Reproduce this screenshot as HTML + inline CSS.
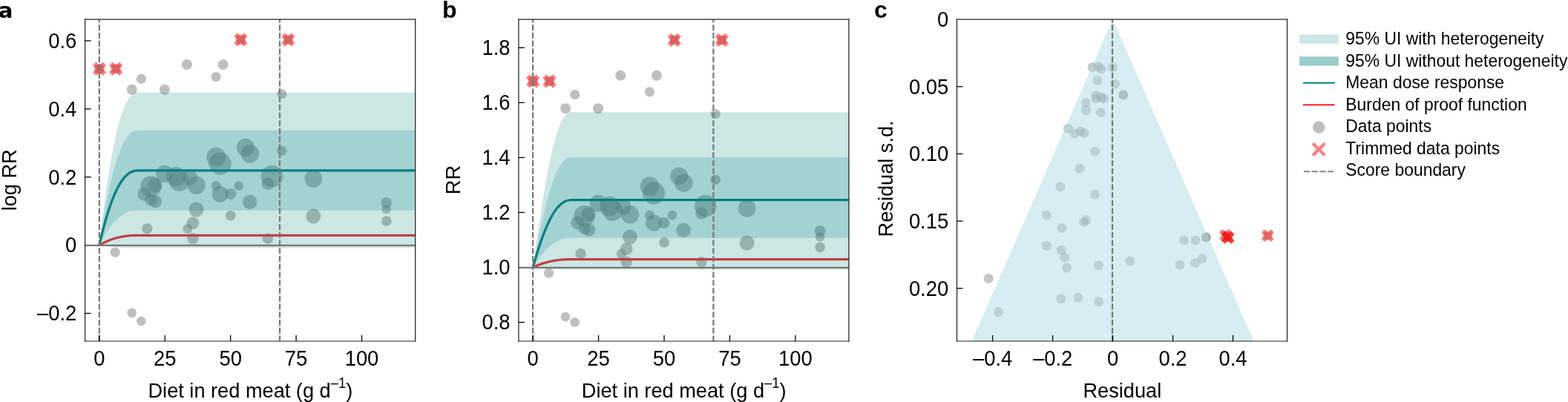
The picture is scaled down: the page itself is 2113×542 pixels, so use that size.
<!DOCTYPE html><html><head><meta charset="utf-8"><title>Red meat burden of proof</title><style>
html,body{margin:0;padding:0;background:#fff;}body{width:2113px;height:542px;overflow:hidden;}
svg{display:block;font-family:"Liberation Sans", Arial, Helvetica, sans-serif;}
.tk{font-size:27.4px;fill:#000;}.lab{font-size:27.2px;fill:#000;}.lg{font-size:22.9px;fill:#000;}.pl{font-size:32px;font-weight:bold;fill:#000;}
</style></head><body>
<svg width="2113" height="542" viewBox="0 0 2113 542">
<defs><clipPath id="c114"><rect x="114.60" y="26.20" width="445.10" height="433.70"/></clipPath></defs>
<g clip-path="url(#c114)">
<circle cx="134.00" cy="92.80" r="7.00" fill="#808080" fill-opacity="0.5"/>
<circle cx="156.20" cy="92.80" r="7.00" fill="#808080" fill-opacity="0.5"/>
<circle cx="324.40" cy="53.50" r="7.00" fill="#808080" fill-opacity="0.5"/>
<circle cx="388.40" cy="53.50" r="7.00" fill="#808080" fill-opacity="0.5"/>
<circle cx="190.40" cy="106.40" r="6.60" fill="#808080" fill-opacity="0.5"/>
<circle cx="177.80" cy="120.80" r="7.00" fill="#808080" fill-opacity="0.5"/>
<circle cx="221.80" cy="120.80" r="7.00" fill="#808080" fill-opacity="0.5"/>
<circle cx="251.90" cy="87.10" r="7.00" fill="#808080" fill-opacity="0.5"/>
<circle cx="300.60" cy="87.10" r="7.00" fill="#808080" fill-opacity="0.5"/>
<circle cx="291.10" cy="103.50" r="6.60" fill="#808080" fill-opacity="0.5"/>
<circle cx="379.80" cy="126.70" r="6.60" fill="#808080" fill-opacity="0.5"/>
<circle cx="221.80" cy="234.30" r="11.60" fill="#808080" fill-opacity="0.5"/>
<circle cx="237.10" cy="238.20" r="13.30" fill="#808080" fill-opacity="0.5"/>
<circle cx="241.50" cy="244.30" r="13.80" fill="#808080" fill-opacity="0.5"/>
<circle cx="255.90" cy="239.30" r="10.50" fill="#808080" fill-opacity="0.5"/>
<circle cx="264.70" cy="249.80" r="12.20" fill="#808080" fill-opacity="0.5"/>
<circle cx="291.20" cy="211.70" r="12.90" fill="#808080" fill-opacity="0.5"/>
<circle cx="296.70" cy="220.60" r="15.10" fill="#808080" fill-opacity="0.5"/>
<circle cx="330.80" cy="198.80" r="12.00" fill="#808080" fill-opacity="0.5"/>
<circle cx="336.90" cy="207.30" r="12.30" fill="#808080" fill-opacity="0.5"/>
<circle cx="291.20" cy="250.60" r="6.60" fill="#808080" fill-opacity="0.5"/>
<circle cx="296.70" cy="261.70" r="11.00" fill="#808080" fill-opacity="0.5"/>
<circle cx="310.60" cy="261.50" r="7.60" fill="#808080" fill-opacity="0.5"/>
<circle cx="321.60" cy="250.60" r="6.30" fill="#808080" fill-opacity="0.5"/>
<circle cx="336.70" cy="272.20" r="9.80" fill="#808080" fill-opacity="0.5"/>
<circle cx="366.40" cy="237.80" r="14.80" fill="#808080" fill-opacity="0.5"/>
<circle cx="361.00" cy="247.90" r="8.20" fill="#808080" fill-opacity="0.5"/>
<circle cx="379.70" cy="203.30" r="6.70" fill="#808080" fill-opacity="0.5"/>
<circle cx="422.30" cy="241.00" r="11.90" fill="#808080" fill-opacity="0.5"/>
<circle cx="422.30" cy="291.50" r="10.00" fill="#808080" fill-opacity="0.5"/>
<circle cx="264.60" cy="282.40" r="10.00" fill="#808080" fill-opacity="0.5"/>
<circle cx="259.90" cy="300.80" r="8.30" fill="#808080" fill-opacity="0.5"/>
<circle cx="252.80" cy="308.40" r="6.40" fill="#808080" fill-opacity="0.5"/>
<circle cx="198.30" cy="308.20" r="7.20" fill="#808080" fill-opacity="0.5"/>
<circle cx="310.70" cy="290.70" r="6.90" fill="#808080" fill-opacity="0.5"/>
<circle cx="259.90" cy="321.60" r="7.70" fill="#808080" fill-opacity="0.5"/>
<circle cx="361.00" cy="321.70" r="7.20" fill="#808080" fill-opacity="0.5"/>
<circle cx="520.70" cy="273.30" r="7.40" fill="#808080" fill-opacity="0.5"/>
<circle cx="520.70" cy="282.40" r="6.20" fill="#808080" fill-opacity="0.5"/>
<circle cx="520.70" cy="298.10" r="6.80" fill="#808080" fill-opacity="0.5"/>
<circle cx="203.30" cy="251.40" r="14.20" fill="#808080" fill-opacity="0.5"/>
<circle cx="208.90" cy="249.80" r="9.70" fill="#808080" fill-opacity="0.5"/>
<circle cx="194.20" cy="261.50" r="9.10" fill="#808080" fill-opacity="0.5"/>
<circle cx="203.30" cy="269.70" r="8.10" fill="#808080" fill-opacity="0.5"/>
<circle cx="209.40" cy="271.70" r="8.60" fill="#808080" fill-opacity="0.5"/>
<circle cx="155.20" cy="340.10" r="6.60" fill="#808080" fill-opacity="0.5"/>
<circle cx="177.70" cy="421.70" r="6.30" fill="#808080" fill-opacity="0.5"/>
<circle cx="190.30" cy="433.00" r="6.30" fill="#808080" fill-opacity="0.5"/>
<polygon points="133.80,330.60 133.81,330.49 133.85,330.11 133.93,329.41 134.05,328.37 134.21,326.97 134.41,325.19 134.65,323.02 134.94,320.47 135.28,317.53 135.67,314.20 136.10,310.49 136.59,306.40 137.13,301.93 137.72,297.11 138.36,291.93 139.05,286.43 139.80,280.62 140.61,274.51 141.47,268.14 142.38,261.52 143.35,254.68 144.38,247.66 145.47,240.49 146.62,233.19 147.82,225.80 149.09,218.37 150.41,210.93 151.79,203.52 153.24,196.18 154.74,188.97 156.31,181.91 157.94,175.07 159.63,168.48 161.38,162.19 163.20,156.26 165.08,150.71 167.02,145.61 169.03,141.00 171.10,136.90 173.23,133.37 175.44,130.42 177.70,128.10 180.04,126.39 182.43,125.31 184.90,124.81 187.43,124.74 190.03,124.74 192.69,124.74 195.43,124.74 198.23,124.74 201.10,124.74 204.04,124.74 207.04,124.74 210.12,124.74 213.26,124.74 216.47,124.74 219.75,124.74 223.11,124.74 226.53,124.74 230.02,124.74 233.59,124.74 237.22,124.74 240.93,124.74 244.70,124.74 248.55,124.74 252.47,124.74 256.46,124.74 260.53,124.74 264.66,124.74 268.87,124.74 273.15,124.74 277.51,124.74 281.93,124.74 286.44,124.74 291.01,124.74 295.66,124.74 300.38,124.74 305.18,124.74 310.05,124.74 314.99,124.74 320.01,124.74 325.11,124.74 330.28,124.74 335.53,124.74 340.85,124.74 346.24,124.74 351.72,124.74 357.26,124.74 362.89,124.74 368.59,124.74 374.37,124.74 380.22,124.74 386.15,124.74 392.16,124.74 398.25,124.74 404.41,124.74 410.65,124.74 416.97,124.74 423.36,124.74 429.84,124.74 436.39,124.74 443.02,124.74 449.73,124.74 456.52,124.74 463.38,124.74 470.33,124.74 477.35,124.74 484.45,124.74 491.64,124.74 498.90,124.74 506.24,124.74 513.66,124.74 521.16,124.74 528.75,124.74 536.41,124.74 544.15,124.74 551.97,124.74 559.88,124.74 567.86,124.74 575.92,124.74 575.92,334.60 567.86,334.60 559.88,334.60 551.97,334.60 544.15,334.60 536.41,334.60 528.75,334.60 521.16,334.60 513.66,334.60 506.24,334.60 498.90,334.60 491.64,334.60 484.45,334.60 477.35,334.60 470.33,334.60 463.38,334.60 456.52,334.60 449.73,334.60 443.02,334.60 436.39,334.60 429.84,334.60 423.36,334.60 416.97,334.60 410.65,334.60 404.41,334.60 398.25,334.60 392.16,334.60 386.15,334.60 380.22,334.60 374.37,334.60 368.59,334.60 362.89,334.60 357.26,334.60 351.72,334.60 346.24,334.60 340.85,334.60 335.53,334.60 330.28,334.60 325.11,334.60 320.01,334.60 314.99,334.60 310.05,334.60 305.18,334.60 300.38,334.60 295.66,334.60 291.01,334.60 286.44,334.60 281.93,334.60 277.51,334.60 273.15,334.60 268.87,334.60 264.66,334.60 260.53,334.60 256.46,334.60 252.47,334.60 248.55,334.60 244.70,334.60 240.93,334.60 237.22,334.60 233.59,334.60 230.02,334.60 226.53,334.60 223.11,334.60 219.75,334.60 216.47,334.60 213.26,334.60 210.12,334.60 207.04,334.60 204.04,334.60 201.10,334.60 198.23,334.60 195.43,334.60 192.69,334.60 190.03,334.60 187.43,334.60 184.90,334.60 182.43,334.59 180.04,334.56 177.70,334.53 175.44,334.49 173.23,334.43 171.10,334.36 169.03,334.28 167.02,334.19 165.08,334.09 163.20,333.98 161.38,333.87 159.63,333.75 157.94,333.62 156.31,333.49 154.74,333.35 153.24,333.21 151.79,333.07 150.41,332.92 149.09,332.78 147.82,332.63 146.62,332.49 145.47,332.35 144.38,332.21 143.35,332.07 142.38,331.94 141.47,331.81 140.61,331.69 139.80,331.57 139.05,331.46 138.36,331.35 137.72,331.25 137.13,331.16 136.59,331.07 136.10,330.99 135.67,330.92 135.28,330.85 134.94,330.80 134.65,330.75 134.41,330.71 134.21,330.67 134.05,330.64 133.93,330.62 133.85,330.61 133.81,330.60 133.80,330.60" fill="#008080" fill-opacity="0.2"/>
<polygon points="133.80,330.60 133.81,330.52 133.85,330.23 133.93,329.71 134.05,328.92 134.21,327.87 134.41,326.53 134.65,324.90 134.94,322.99 135.28,320.78 135.67,318.27 136.10,315.48 136.59,312.40 137.13,309.05 137.72,305.42 138.36,301.53 139.05,297.39 139.80,293.02 140.61,288.43 141.47,283.64 142.38,278.66 143.35,273.52 144.38,268.24 145.47,262.85 146.62,257.36 147.82,251.81 149.09,246.22 150.41,240.62 151.79,235.05 153.24,229.54 154.74,224.11 156.31,218.81 157.94,213.66 159.63,208.71 161.38,203.99 163.20,199.52 165.08,195.36 167.02,191.52 169.03,188.05 171.10,184.97 173.23,182.31 175.44,180.10 177.70,178.35 180.04,177.07 182.43,176.26 184.90,175.88 187.43,175.83 190.03,175.83 192.69,175.83 195.43,175.83 198.23,175.83 201.10,175.83 204.04,175.83 207.04,175.83 210.12,175.83 213.26,175.83 216.47,175.83 219.75,175.83 223.11,175.83 226.53,175.83 230.02,175.83 233.59,175.83 237.22,175.83 240.93,175.83 244.70,175.83 248.55,175.83 252.47,175.83 256.46,175.83 260.53,175.83 264.66,175.83 268.87,175.83 273.15,175.83 277.51,175.83 281.93,175.83 286.44,175.83 291.01,175.83 295.66,175.83 300.38,175.83 305.18,175.83 310.05,175.83 314.99,175.83 320.01,175.83 325.11,175.83 330.28,175.83 335.53,175.83 340.85,175.83 346.24,175.83 351.72,175.83 357.26,175.83 362.89,175.83 368.59,175.83 374.37,175.83 380.22,175.83 386.15,175.83 392.16,175.83 398.25,175.83 404.41,175.83 410.65,175.83 416.97,175.83 423.36,175.83 429.84,175.83 436.39,175.83 443.02,175.83 449.73,175.83 456.52,175.83 463.38,175.83 470.33,175.83 477.35,175.83 484.45,175.83 491.64,175.83 498.90,175.83 506.24,175.83 513.66,175.83 521.16,175.83 528.75,175.83 536.41,175.83 544.15,175.83 551.97,175.83 559.88,175.83 567.86,175.83 575.92,175.83 575.92,283.79 567.86,283.79 559.88,283.79 551.97,283.79 544.15,283.79 536.41,283.79 528.75,283.79 521.16,283.79 513.66,283.79 506.24,283.79 498.90,283.79 491.64,283.79 484.45,283.79 477.35,283.79 470.33,283.79 463.38,283.79 456.52,283.79 449.73,283.79 443.02,283.79 436.39,283.79 429.84,283.79 423.36,283.79 416.97,283.79 410.65,283.79 404.41,283.79 398.25,283.79 392.16,283.79 386.15,283.79 380.22,283.79 374.37,283.79 368.59,283.79 362.89,283.79 357.26,283.79 351.72,283.79 346.24,283.79 340.85,283.79 335.53,283.79 330.28,283.79 325.11,283.79 320.01,283.79 314.99,283.79 310.05,283.79 305.18,283.79 300.38,283.79 295.66,283.79 291.01,283.79 286.44,283.79 281.93,283.79 277.51,283.79 273.15,283.79 268.87,283.79 264.66,283.79 260.53,283.79 256.46,283.79 252.47,283.79 248.55,283.79 244.70,283.79 240.93,283.79 237.22,283.79 233.59,283.79 230.02,283.79 226.53,283.79 223.11,283.79 219.75,283.79 216.47,283.79 213.26,283.79 210.12,283.79 207.04,283.79 204.04,283.79 201.10,283.79 198.23,283.79 195.43,283.79 192.69,283.79 190.03,283.79 187.43,283.79 184.90,283.80 182.43,283.92 180.04,284.16 177.70,284.55 175.44,285.08 173.23,285.75 171.10,286.55 169.03,287.48 167.02,288.53 165.08,289.69 163.20,290.95 161.38,292.30 159.63,293.73 157.94,295.23 156.31,296.79 154.74,298.39 153.24,300.03 151.79,301.70 150.41,303.39 149.09,305.08 147.82,306.77 146.62,308.45 145.47,310.11 144.38,311.74 143.35,313.34 142.38,314.89 141.47,316.40 140.61,317.85 139.80,319.23 139.05,320.56 138.36,321.81 137.72,322.98 137.13,324.08 136.59,325.10 136.10,326.03 135.67,326.87 135.28,327.63 134.94,328.30 134.65,328.88 134.41,329.37 134.21,329.77 134.05,330.09 133.93,330.33 133.85,330.49 133.81,330.58 133.80,330.60" fill="#008080" fill-opacity="0.2"/>
<polyline points="133.80,330.60 133.81,330.55 133.85,330.36 133.93,330.02 134.05,329.51 134.21,328.82 134.41,327.95 134.65,326.89 134.94,325.64 135.28,324.20 135.67,322.57 136.10,320.75 136.59,318.75 137.13,316.56 137.72,314.20 138.36,311.67 139.05,308.97 139.80,306.13 140.61,303.14 141.47,300.02 142.38,296.78 143.35,293.43 144.38,289.99 145.47,286.48 146.62,282.90 147.82,279.29 149.09,275.65 150.41,272.01 151.79,268.38 153.24,264.79 154.74,261.25 156.31,257.80 157.94,254.45 159.63,251.22 161.38,248.14 163.20,245.24 165.08,242.52 167.02,240.03 169.03,237.77 171.10,235.76 173.23,234.03 175.44,232.59 177.70,231.45 180.04,230.62 182.43,230.09 184.90,229.84 187.43,229.81 190.03,229.81 192.69,229.81 195.43,229.81 198.23,229.81 201.10,229.81 204.04,229.81 207.04,229.81 210.12,229.81 213.26,229.81 216.47,229.81 219.75,229.81 223.11,229.81 226.53,229.81 230.02,229.81 233.59,229.81 237.22,229.81 240.93,229.81 244.70,229.81 248.55,229.81 252.47,229.81 256.46,229.81 260.53,229.81 264.66,229.81 268.87,229.81 273.15,229.81 277.51,229.81 281.93,229.81 286.44,229.81 291.01,229.81 295.66,229.81 300.38,229.81 305.18,229.81 310.05,229.81 314.99,229.81 320.01,229.81 325.11,229.81 330.28,229.81 335.53,229.81 340.85,229.81 346.24,229.81 351.72,229.81 357.26,229.81 362.89,229.81 368.59,229.81 374.37,229.81 380.22,229.81 386.15,229.81 392.16,229.81 398.25,229.81 404.41,229.81 410.65,229.81 416.97,229.81 423.36,229.81 429.84,229.81 436.39,229.81 443.02,229.81 449.73,229.81 456.52,229.81 463.38,229.81 470.33,229.81 477.35,229.81 484.45,229.81 491.64,229.81 498.90,229.81 506.24,229.81 513.66,229.81 521.16,229.81 528.75,229.81 536.41,229.81 544.15,229.81 551.97,229.81 559.88,229.81 567.86,229.81 575.92,229.81" fill="none" stroke="#087e80" stroke-width="3.2"/>
<polyline points="133.80,330.60 133.81,330.59 133.85,330.57 133.93,330.52 134.05,330.46 134.21,330.36 134.41,330.25 134.65,330.11 134.94,329.94 135.28,329.75 135.67,329.54 136.10,329.30 136.59,329.03 137.13,328.74 137.72,328.43 138.36,328.10 139.05,327.74 139.80,327.37 140.61,326.97 141.47,326.56 142.38,326.13 143.35,325.69 144.38,325.23 145.47,324.77 146.62,324.30 147.82,323.82 149.09,323.34 150.41,322.86 151.79,322.38 153.24,321.90 154.74,321.43 156.31,320.98 157.94,320.53 159.63,320.11 161.38,319.70 163.20,319.32 165.08,318.96 167.02,318.63 169.03,318.33 171.10,318.06 173.23,317.84 175.44,317.65 177.70,317.49 180.04,317.38 182.43,317.31 184.90,317.28 187.43,317.28 190.03,317.28 192.69,317.28 195.43,317.28 198.23,317.28 201.10,317.28 204.04,317.28 207.04,317.28 210.12,317.28 213.26,317.28 216.47,317.28 219.75,317.28 223.11,317.28 226.53,317.28 230.02,317.28 233.59,317.28 237.22,317.28 240.93,317.28 244.70,317.28 248.55,317.28 252.47,317.28 256.46,317.28 260.53,317.28 264.66,317.28 268.87,317.28 273.15,317.28 277.51,317.28 281.93,317.28 286.44,317.28 291.01,317.28 295.66,317.28 300.38,317.28 305.18,317.28 310.05,317.28 314.99,317.28 320.01,317.28 325.11,317.28 330.28,317.28 335.53,317.28 340.85,317.28 346.24,317.28 351.72,317.28 357.26,317.28 362.89,317.28 368.59,317.28 374.37,317.28 380.22,317.28 386.15,317.28 392.16,317.28 398.25,317.28 404.41,317.28 410.65,317.28 416.97,317.28 423.36,317.28 429.84,317.28 436.39,317.28 443.02,317.28 449.73,317.28 456.52,317.28 463.38,317.28 470.33,317.28 477.35,317.28 484.45,317.28 491.64,317.28 498.90,317.28 506.24,317.28 513.66,317.28 521.16,317.28 528.75,317.28 536.41,317.28 544.15,317.28 551.97,317.28 559.88,317.28 567.86,317.28 575.92,317.28" fill="none" stroke="#bf4143" stroke-width="3.2"/>
<line x1="114.60" y1="330.95" x2="559.70" y2="330.95" stroke="#777" stroke-width="2.2"/>
<polygon points="129.40,83.60 134.00,88.20 138.60,83.60 143.20,88.20 138.60,92.80 143.20,97.40 138.60,102.00 134.00,97.40 129.40,102.00 124.80,97.40 129.40,92.80 124.80,88.20" fill="#f00" fill-opacity="0.5"/>
<polygon points="151.60,83.60 156.20,88.20 160.80,83.60 165.40,88.20 160.80,92.80 165.40,97.40 160.80,102.00 156.20,97.40 151.60,102.00 147.00,97.40 151.60,92.80 147.00,88.20" fill="#f00" fill-opacity="0.5"/>
<polygon points="319.80,44.30 324.40,48.90 329.00,44.30 333.60,48.90 329.00,53.50 333.60,58.10 329.00,62.70 324.40,58.10 319.80,62.70 315.20,58.10 319.80,53.50 315.20,48.90" fill="#f00" fill-opacity="0.5"/>
<polygon points="383.80,44.30 388.40,48.90 393.00,44.30 397.60,48.90 393.00,53.50 397.60,58.10 393.00,62.70 388.40,58.10 383.80,62.70 379.20,58.10 383.80,53.50 379.20,48.90" fill="#f00" fill-opacity="0.5"/>
<line x1="133.80" y1="459.90" x2="133.80" y2="26.20" stroke="#777" stroke-width="2.2" stroke-dasharray="7.8 2.95" stroke-dashoffset="0.5"/>
<line x1="377.00" y1="459.90" x2="377.00" y2="26.20" stroke="#777" stroke-width="2.2" stroke-dasharray="7.8 2.95" stroke-dashoffset="0.5"/>
</g>
<defs><clipPath id="c698"><rect x="698.90" y="26.20" width="445.00" height="433.70"/></clipPath></defs>
<g clip-path="url(#c698)">
<circle cx="718.30" cy="109.49" r="7.00" fill="#808080" fill-opacity="0.5"/>
<circle cx="740.51" cy="109.49" r="7.00" fill="#808080" fill-opacity="0.5"/>
<circle cx="908.75" cy="54.00" r="7.00" fill="#808080" fill-opacity="0.5"/>
<circle cx="972.77" cy="54.00" r="7.00" fill="#808080" fill-opacity="0.5"/>
<circle cx="774.72" cy="127.61" r="6.60" fill="#808080" fill-opacity="0.5"/>
<circle cx="762.11" cy="146.22" r="7.00" fill="#808080" fill-opacity="0.5"/>
<circle cx="806.12" cy="146.22" r="7.00" fill="#808080" fill-opacity="0.5"/>
<circle cx="836.23" cy="101.73" r="7.00" fill="#808080" fill-opacity="0.5"/>
<circle cx="884.95" cy="101.73" r="7.00" fill="#808080" fill-opacity="0.5"/>
<circle cx="875.44" cy="123.79" r="6.60" fill="#808080" fill-opacity="0.5"/>
<circle cx="964.17" cy="153.68" r="6.60" fill="#808080" fill-opacity="0.5"/>
<circle cx="806.12" cy="274.17" r="11.60" fill="#808080" fill-opacity="0.5"/>
<circle cx="821.43" cy="278.02" r="13.30" fill="#808080" fill-opacity="0.5"/>
<circle cx="825.83" cy="284.00" r="13.80" fill="#808080" fill-opacity="0.5"/>
<circle cx="840.23" cy="279.11" r="10.50" fill="#808080" fill-opacity="0.5"/>
<circle cx="849.04" cy="289.31" r="12.20" fill="#808080" fill-opacity="0.5"/>
<circle cx="875.54" cy="251.14" r="12.90" fill="#808080" fill-opacity="0.5"/>
<circle cx="881.05" cy="260.35" r="15.10" fill="#808080" fill-opacity="0.5"/>
<circle cx="915.16" cy="237.49" r="12.00" fill="#808080" fill-opacity="0.5"/>
<circle cx="921.26" cy="246.53" r="12.30" fill="#808080" fill-opacity="0.5"/>
<circle cx="875.54" cy="290.08" r="6.60" fill="#808080" fill-opacity="0.5"/>
<circle cx="881.05" cy="300.60" r="11.00" fill="#808080" fill-opacity="0.5"/>
<circle cx="894.95" cy="300.41" r="7.60" fill="#808080" fill-opacity="0.5"/>
<circle cx="905.95" cy="290.08" r="6.30" fill="#808080" fill-opacity="0.5"/>
<circle cx="921.06" cy="310.32" r="9.80" fill="#808080" fill-opacity="0.5"/>
<circle cx="950.77" cy="277.63" r="14.80" fill="#808080" fill-opacity="0.5"/>
<circle cx="945.36" cy="287.48" r="8.20" fill="#808080" fill-opacity="0.5"/>
<circle cx="964.07" cy="242.30" r="6.70" fill="#808080" fill-opacity="0.5"/>
<circle cx="1006.68" cy="280.78" r="11.90" fill="#808080" fill-opacity="0.5"/>
<circle cx="1006.68" cy="327.61" r="10.00" fill="#808080" fill-opacity="0.5"/>
<circle cx="848.94" cy="319.55" r="10.00" fill="#808080" fill-opacity="0.5"/>
<circle cx="844.24" cy="335.69" r="8.30" fill="#808080" fill-opacity="0.5"/>
<circle cx="837.13" cy="342.17" r="6.40" fill="#808080" fill-opacity="0.5"/>
<circle cx="782.62" cy="342.00" r="7.20" fill="#808080" fill-opacity="0.5"/>
<circle cx="895.05" cy="326.91" r="6.90" fill="#808080" fill-opacity="0.5"/>
<circle cx="844.24" cy="353.18" r="7.70" fill="#808080" fill-opacity="0.5"/>
<circle cx="945.36" cy="353.26" r="7.20" fill="#808080" fill-opacity="0.5"/>
<circle cx="1105.11" cy="311.32" r="7.40" fill="#808080" fill-opacity="0.5"/>
<circle cx="1105.11" cy="319.55" r="6.20" fill="#808080" fill-opacity="0.5"/>
<circle cx="1105.11" cy="333.36" r="6.80" fill="#808080" fill-opacity="0.5"/>
<circle cx="787.62" cy="290.85" r="14.20" fill="#808080" fill-opacity="0.5"/>
<circle cx="793.22" cy="289.31" r="9.70" fill="#808080" fill-opacity="0.5"/>
<circle cx="778.52" cy="300.41" r="9.10" fill="#808080" fill-opacity="0.5"/>
<circle cx="787.62" cy="308.02" r="8.10" fill="#808080" fill-opacity="0.5"/>
<circle cx="793.72" cy="309.86" r="8.60" fill="#808080" fill-opacity="0.5"/>
<circle cx="739.51" cy="368.08" r="6.60" fill="#808080" fill-opacity="0.5"/>
<circle cx="762.01" cy="427.09" r="6.30" fill="#808080" fill-opacity="0.5"/>
<circle cx="774.62" cy="434.47" r="6.30" fill="#808080" fill-opacity="0.5"/>
<polygon points="718.10,360.50 718.11,360.41 718.15,360.11 718.23,359.54 718.35,358.70 718.51,357.56 718.71,356.11 718.95,354.34 719.24,352.25 719.58,349.82 719.97,347.05 720.40,343.93 720.89,340.47 721.43,336.66 722.02,332.50 722.66,327.99 723.35,323.14 724.10,317.95 724.91,312.43 725.77,306.58 726.68,300.43 727.66,293.98 728.69,287.25 729.78,280.27 730.92,273.06 732.13,265.64 733.39,258.06 734.71,250.34 736.10,242.53 737.54,234.67 739.05,226.82 740.61,219.02 742.24,211.34 743.93,203.84 745.69,196.58 747.50,189.63 749.38,183.07 751.33,176.95 753.34,171.36 755.41,166.35 757.55,161.99 759.75,158.34 762.02,155.43 764.35,153.29 766.75,151.93 769.21,151.30 771.75,151.21 774.35,151.21 777.01,151.21 779.75,151.21 782.55,151.21 785.42,151.21 788.35,151.21 791.36,151.21 794.44,151.21 797.58,151.21 800.80,151.21 804.08,151.21 807.43,151.21 810.86,151.21 814.35,151.21 817.91,151.21 821.55,151.21 825.26,151.21 829.03,151.21 832.88,151.21 836.80,151.21 840.80,151.21 844.86,151.21 849.00,151.21 853.21,151.21 857.49,151.21 861.85,151.21 866.28,151.21 870.78,151.21 875.35,151.21 880.00,151.21 884.73,151.21 889.53,151.21 894.40,151.21 899.35,151.21 904.37,151.21 909.46,151.21 914.64,151.21 919.88,151.21 925.21,151.21 930.60,151.21 936.08,151.21 941.63,151.21 947.25,151.21 952.96,151.21 958.74,151.21 964.59,151.21 970.52,151.21 976.53,151.21 982.62,151.21 988.79,151.21 995.03,151.21 1001.35,151.21 1007.75,151.21 1014.22,151.21 1020.77,151.21 1027.41,151.21 1034.12,151.21 1040.91,151.21 1047.77,151.21 1054.72,151.21 1061.75,151.21 1068.85,151.21 1076.04,151.21 1083.30,151.21 1090.65,151.21 1098.07,151.21 1105.57,151.21 1113.16,151.21 1120.82,151.21 1128.57,151.21 1136.39,151.21 1144.30,151.21 1152.28,151.21 1160.35,151.21 1160.35,363.71 1152.28,363.71 1144.30,363.71 1136.39,363.71 1128.57,363.71 1120.82,363.71 1113.16,363.71 1105.57,363.71 1098.07,363.71 1090.65,363.71 1083.30,363.71 1076.04,363.71 1068.85,363.71 1061.75,363.71 1054.72,363.71 1047.77,363.71 1040.91,363.71 1034.12,363.71 1027.41,363.71 1020.77,363.71 1014.22,363.71 1007.75,363.71 1001.35,363.71 995.03,363.71 988.79,363.71 982.62,363.71 976.53,363.71 970.52,363.71 964.59,363.71 958.74,363.71 952.96,363.71 947.25,363.71 941.63,363.71 936.08,363.71 930.60,363.71 925.21,363.71 919.88,363.71 914.64,363.71 909.46,363.71 904.37,363.71 899.35,363.71 894.40,363.71 889.53,363.71 884.73,363.71 880.00,363.71 875.35,363.71 870.78,363.71 866.28,363.71 861.85,363.71 857.49,363.71 853.21,363.71 849.00,363.71 844.86,363.71 840.80,363.71 836.80,363.71 832.88,363.71 829.03,363.71 825.26,363.71 821.55,363.71 817.91,363.71 814.35,363.71 810.86,363.71 807.43,363.71 804.08,363.71 800.80,363.71 797.58,363.71 794.44,363.71 791.36,363.71 788.35,363.71 785.42,363.71 782.55,363.71 779.75,363.71 777.01,363.71 774.35,363.71 771.75,363.71 769.21,363.71 766.75,363.70 764.35,363.68 762.02,363.65 759.75,363.62 757.55,363.57 755.41,363.52 753.34,363.45 751.33,363.38 749.38,363.30 747.50,363.22 745.69,363.13 743.93,363.03 742.24,362.93 740.61,362.82 739.05,362.71 737.54,362.60 736.10,362.48 734.71,362.37 733.39,362.25 732.13,362.14 730.92,362.02 729.78,361.91 728.69,361.80 727.66,361.69 726.68,361.58 725.77,361.48 724.91,361.38 724.10,361.28 723.35,361.19 722.66,361.10 722.02,361.02 721.43,360.95 720.89,360.88 720.40,360.81 719.97,360.76 719.58,360.70 719.24,360.66 718.95,360.62 718.71,360.58 718.51,360.56 718.35,360.53 718.23,360.52 718.15,360.51 718.11,360.50 718.10,360.50" fill="#008080" fill-opacity="0.2"/>
<polygon points="718.10,360.50 718.11,360.44 718.15,360.21 718.23,359.78 718.35,359.15 718.51,358.29 718.71,357.21 718.95,355.88 719.24,354.31 719.58,352.50 719.97,350.43 720.40,348.11 720.89,345.54 721.43,342.72 722.02,339.64 722.66,336.32 723.35,332.75 724.10,328.95 724.91,324.91 725.77,320.66 726.68,316.19 727.66,311.53 728.69,306.68 729.78,301.67 730.92,296.52 732.13,291.24 733.39,285.86 734.71,280.41 736.10,274.91 737.54,269.41 739.05,263.93 740.61,258.51 742.24,253.19 743.93,248.01 745.69,243.02 747.50,238.26 749.38,233.78 751.33,229.61 753.34,225.81 755.41,222.41 757.55,219.47 759.75,217.00 762.02,215.04 764.35,213.60 766.75,212.68 769.21,212.25 771.75,212.20 774.35,212.20 777.01,212.20 779.75,212.20 782.55,212.20 785.42,212.20 788.35,212.20 791.36,212.20 794.44,212.20 797.58,212.20 800.80,212.20 804.08,212.20 807.43,212.20 810.86,212.20 814.35,212.20 817.91,212.20 821.55,212.20 825.26,212.20 829.03,212.20 832.88,212.20 836.80,212.20 840.80,212.20 844.86,212.20 849.00,212.20 853.21,212.20 857.49,212.20 861.85,212.20 866.28,212.20 870.78,212.20 875.35,212.20 880.00,212.20 884.73,212.20 889.53,212.20 894.40,212.20 899.35,212.20 904.37,212.20 909.46,212.20 914.64,212.20 919.88,212.20 925.21,212.20 930.60,212.20 936.08,212.20 941.63,212.20 947.25,212.20 952.96,212.20 958.74,212.20 964.59,212.20 970.52,212.20 976.53,212.20 982.62,212.20 988.79,212.20 995.03,212.20 1001.35,212.20 1007.75,212.20 1014.22,212.20 1020.77,212.20 1027.41,212.20 1034.12,212.20 1040.91,212.20 1047.77,212.20 1054.72,212.20 1061.75,212.20 1068.85,212.20 1076.04,212.20 1083.30,212.20 1090.65,212.20 1098.07,212.20 1105.57,212.20 1113.16,212.20 1120.82,212.20 1128.57,212.20 1136.39,212.20 1144.30,212.20 1152.28,212.20 1160.35,212.20 1160.35,320.79 1152.28,320.79 1144.30,320.79 1136.39,320.79 1128.57,320.79 1120.82,320.79 1113.16,320.79 1105.57,320.79 1098.07,320.79 1090.65,320.79 1083.30,320.79 1076.04,320.79 1068.85,320.79 1061.75,320.79 1054.72,320.79 1047.77,320.79 1040.91,320.79 1034.12,320.79 1027.41,320.79 1020.77,320.79 1014.22,320.79 1007.75,320.79 1001.35,320.79 995.03,320.79 988.79,320.79 982.62,320.79 976.53,320.79 970.52,320.79 964.59,320.79 958.74,320.79 952.96,320.79 947.25,320.79 941.63,320.79 936.08,320.79 930.60,320.79 925.21,320.79 919.88,320.79 914.64,320.79 909.46,320.79 904.37,320.79 899.35,320.79 894.40,320.79 889.53,320.79 884.73,320.79 880.00,320.79 875.35,320.79 870.78,320.79 866.28,320.79 861.85,320.79 857.49,320.79 853.21,320.79 849.00,320.79 844.86,320.79 840.80,320.79 836.80,320.79 832.88,320.79 829.03,320.79 825.26,320.79 821.55,320.79 817.91,320.79 814.35,320.79 810.86,320.79 807.43,320.79 804.08,320.79 800.80,320.79 797.58,320.79 794.44,320.79 791.36,320.79 788.35,320.79 785.42,320.79 782.55,320.79 779.75,320.79 777.01,320.79 774.35,320.79 771.75,320.79 769.21,320.80 766.75,320.90 764.35,321.12 762.02,321.47 759.75,321.94 757.55,322.53 755.41,323.25 753.34,324.07 751.33,325.00 749.38,326.02 747.50,327.13 745.69,328.32 743.93,329.57 742.24,330.87 740.61,332.23 739.05,333.61 737.54,335.03 736.10,336.46 734.71,337.91 733.39,339.35 732.13,340.79 730.92,342.21 729.78,343.61 728.69,344.99 727.66,346.32 726.68,347.62 725.77,348.88 724.91,350.08 724.10,351.23 723.35,352.32 722.66,353.35 722.02,354.31 721.43,355.21 720.89,356.04 720.40,356.80 719.97,357.48 719.58,358.10 719.24,358.64 718.95,359.11 718.71,359.51 718.51,359.83 718.35,360.09 718.23,360.28 718.15,360.41 718.11,360.48 718.10,360.50" fill="#008080" fill-opacity="0.2"/>
<polyline points="718.10,360.50 718.11,360.46 718.15,360.31 718.23,360.03 718.35,359.62 718.51,359.06 718.71,358.36 718.95,357.50 719.24,356.48 719.58,355.31 719.97,353.97 720.40,352.48 720.89,350.83 721.43,349.01 722.02,347.05 722.66,344.93 723.35,342.66 724.10,340.25 724.91,337.70 725.77,335.02 726.68,332.22 727.66,329.30 728.69,326.29 729.78,323.18 730.92,320.00 732.13,316.75 733.39,313.46 734.71,310.14 736.10,306.80 737.54,303.48 739.05,300.18 740.61,296.93 742.24,293.75 743.93,290.68 745.69,287.72 747.50,284.91 749.38,282.27 751.33,279.82 753.34,277.60 755.41,275.61 757.55,273.90 759.75,272.46 762.02,271.32 764.35,270.49 766.75,269.96 769.21,269.71 771.75,269.68 774.35,269.68 777.01,269.68 779.75,269.68 782.55,269.68 785.42,269.68 788.35,269.68 791.36,269.68 794.44,269.68 797.58,269.68 800.80,269.68 804.08,269.68 807.43,269.68 810.86,269.68 814.35,269.68 817.91,269.68 821.55,269.68 825.26,269.68 829.03,269.68 832.88,269.68 836.80,269.68 840.80,269.68 844.86,269.68 849.00,269.68 853.21,269.68 857.49,269.68 861.85,269.68 866.28,269.68 870.78,269.68 875.35,269.68 880.00,269.68 884.73,269.68 889.53,269.68 894.40,269.68 899.35,269.68 904.37,269.68 909.46,269.68 914.64,269.68 919.88,269.68 925.21,269.68 930.60,269.68 936.08,269.68 941.63,269.68 947.25,269.68 952.96,269.68 958.74,269.68 964.59,269.68 970.52,269.68 976.53,269.68 982.62,269.68 988.79,269.68 995.03,269.68 1001.35,269.68 1007.75,269.68 1014.22,269.68 1020.77,269.68 1027.41,269.68 1034.12,269.68 1040.91,269.68 1047.77,269.68 1054.72,269.68 1061.75,269.68 1068.85,269.68 1076.04,269.68 1083.30,269.68 1090.65,269.68 1098.07,269.68 1105.57,269.68 1113.16,269.68 1120.82,269.68 1128.57,269.68 1136.39,269.68 1144.30,269.68 1152.28,269.68 1160.35,269.68" fill="none" stroke="#087e80" stroke-width="3.2"/>
<polyline points="718.10,360.50 718.11,360.49 718.15,360.47 718.23,360.44 718.35,360.38 718.51,360.31 718.71,360.22 718.95,360.10 719.24,359.97 719.58,359.82 719.97,359.64 720.40,359.45 720.89,359.24 721.43,359.00 722.02,358.75 722.66,358.48 723.35,358.19 724.10,357.88 724.91,357.56 725.77,357.23 726.68,356.88 727.66,356.52 728.69,356.15 729.78,355.77 730.92,355.38 732.13,354.99 733.39,354.60 734.71,354.21 736.10,353.81 737.54,353.42 739.05,353.04 740.61,352.66 742.24,352.30 743.93,351.95 745.69,351.61 747.50,351.30 749.38,351.00 751.33,350.73 753.34,350.48 755.41,350.26 757.55,350.07 759.75,349.91 762.02,349.79 764.35,349.70 766.75,349.64 769.21,349.61 771.75,349.61 774.35,349.61 777.01,349.61 779.75,349.61 782.55,349.61 785.42,349.61 788.35,349.61 791.36,349.61 794.44,349.61 797.58,349.61 800.80,349.61 804.08,349.61 807.43,349.61 810.86,349.61 814.35,349.61 817.91,349.61 821.55,349.61 825.26,349.61 829.03,349.61 832.88,349.61 836.80,349.61 840.80,349.61 844.86,349.61 849.00,349.61 853.21,349.61 857.49,349.61 861.85,349.61 866.28,349.61 870.78,349.61 875.35,349.61 880.00,349.61 884.73,349.61 889.53,349.61 894.40,349.61 899.35,349.61 904.37,349.61 909.46,349.61 914.64,349.61 919.88,349.61 925.21,349.61 930.60,349.61 936.08,349.61 941.63,349.61 947.25,349.61 952.96,349.61 958.74,349.61 964.59,349.61 970.52,349.61 976.53,349.61 982.62,349.61 988.79,349.61 995.03,349.61 1001.35,349.61 1007.75,349.61 1014.22,349.61 1020.77,349.61 1027.41,349.61 1034.12,349.61 1040.91,349.61 1047.77,349.61 1054.72,349.61 1061.75,349.61 1068.85,349.61 1076.04,349.61 1083.30,349.61 1090.65,349.61 1098.07,349.61 1105.57,349.61 1113.16,349.61 1120.82,349.61 1128.57,349.61 1136.39,349.61 1144.30,349.61 1152.28,349.61 1160.35,349.61" fill="none" stroke="#bf4143" stroke-width="3.2"/>
<line x1="698.90" y1="360.85" x2="1143.90" y2="360.85" stroke="#777" stroke-width="2.2"/>
<polygon points="713.70,100.29 718.30,104.89 722.90,100.29 727.50,104.89 722.90,109.49 727.50,114.09 722.90,118.69 718.30,114.09 713.70,118.69 709.10,114.09 713.70,109.49 709.10,104.89" fill="#f00" fill-opacity="0.5"/>
<polygon points="735.91,100.29 740.51,104.89 745.11,100.29 749.71,104.89 745.11,109.49 749.71,114.09 745.11,118.69 740.51,114.09 735.91,118.69 731.31,114.09 735.91,109.49 731.31,104.89" fill="#f00" fill-opacity="0.5"/>
<polygon points="904.15,44.80 908.75,49.40 913.35,44.80 917.95,49.40 913.35,54.00 917.95,58.60 913.35,63.20 908.75,58.60 904.15,63.20 899.55,58.60 904.15,54.00 899.55,49.40" fill="#f00" fill-opacity="0.5"/>
<polygon points="968.17,44.80 972.77,49.40 977.37,44.80 981.97,49.40 977.37,54.00 981.97,58.60 977.37,63.20 972.77,58.60 968.17,63.20 963.57,58.60 968.17,54.00 963.57,49.40" fill="#f00" fill-opacity="0.5"/>
<line x1="718.10" y1="459.90" x2="718.10" y2="26.20" stroke="#777" stroke-width="2.2" stroke-dasharray="7.8 2.95" stroke-dashoffset="0.5"/>
<line x1="961.37" y1="459.90" x2="961.37" y2="26.20" stroke="#777" stroke-width="2.2" stroke-dasharray="7.8 2.95" stroke-dashoffset="0.5"/>
</g>
<defs><clipPath id="cc"><rect x="1289.50" y="26.20" width="445.00" height="433.70"/></clipPath></defs>
<g clip-path="url(#cc)">
<circle cx="1472.10" cy="90.80" r="6.5" fill="#808080" fill-opacity="0.45"/>
<circle cx="1480.30" cy="89.60" r="6.5" fill="#808080" fill-opacity="0.45"/>
<circle cx="1484.00" cy="93.30" r="6.5" fill="#808080" fill-opacity="0.45"/>
<circle cx="1499.30" cy="90.80" r="6.5" fill="#808080" fill-opacity="0.45"/>
<circle cx="1479.10" cy="108.30" r="6.5" fill="#808080" fill-opacity="0.45"/>
<circle cx="1502.60" cy="113.30" r="6.5" fill="#808080" fill-opacity="0.45"/>
<circle cx="1513.70" cy="127.90" r="6.5" fill="#808080" fill-opacity="0.45"/>
<circle cx="1513.70" cy="127.90" r="6.5" fill="#808080" fill-opacity="0.45"/>
<circle cx="1476.60" cy="128.60" r="6.5" fill="#808080" fill-opacity="0.45"/>
<circle cx="1477.10" cy="133.10" r="6.5" fill="#808080" fill-opacity="0.45"/>
<circle cx="1484.00" cy="131.10" r="6.5" fill="#808080" fill-opacity="0.45"/>
<circle cx="1487.70" cy="133.10" r="6.5" fill="#808080" fill-opacity="0.45"/>
<circle cx="1463.50" cy="138.50" r="6.5" fill="#808080" fill-opacity="0.45"/>
<circle cx="1463.50" cy="148.40" r="6.5" fill="#808080" fill-opacity="0.45"/>
<circle cx="1483.30" cy="151.60" r="6.5" fill="#808080" fill-opacity="0.45"/>
<circle cx="1439.50" cy="173.30" r="6.5" fill="#808080" fill-opacity="0.45"/>
<circle cx="1448.10" cy="180.00" r="6.5" fill="#808080" fill-opacity="0.45"/>
<circle cx="1456.30" cy="176.90" r="6.5" fill="#808080" fill-opacity="0.45"/>
<circle cx="1461.10" cy="179.50" r="6.5" fill="#808080" fill-opacity="0.45"/>
<circle cx="1475.50" cy="204.20" r="6.5" fill="#808080" fill-opacity="0.45"/>
<circle cx="1455.10" cy="227.20" r="6.5" fill="#808080" fill-opacity="0.45"/>
<circle cx="1428.90" cy="251.70" r="6.5" fill="#808080" fill-opacity="0.45"/>
<circle cx="1475.50" cy="262.30" r="6.5" fill="#808080" fill-opacity="0.45"/>
<circle cx="1410.40" cy="290.10" r="6.5" fill="#808080" fill-opacity="0.45"/>
<circle cx="1431.10" cy="307.50" r="6.5" fill="#808080" fill-opacity="0.45"/>
<circle cx="1460.70" cy="299.50" r="6.5" fill="#808080" fill-opacity="0.45"/>
<circle cx="1463.70" cy="296.60" r="6.5" fill="#808080" fill-opacity="0.45"/>
<circle cx="1410.40" cy="331.40" r="6.5" fill="#808080" fill-opacity="0.45"/>
<circle cx="1430.20" cy="337.30" r="6.5" fill="#808080" fill-opacity="0.45"/>
<circle cx="1434.70" cy="347.30" r="6.5" fill="#808080" fill-opacity="0.45"/>
<circle cx="1437.60" cy="360.90" r="6.5" fill="#808080" fill-opacity="0.45"/>
<circle cx="1480.50" cy="357.70" r="6.5" fill="#808080" fill-opacity="0.45"/>
<circle cx="1522.70" cy="351.80" r="6.5" fill="#808080" fill-opacity="0.45"/>
<circle cx="1332.20" cy="375.40" r="6.5" fill="#808080" fill-opacity="0.45"/>
<circle cx="1429.80" cy="402.80" r="6.5" fill="#808080" fill-opacity="0.45"/>
<circle cx="1452.90" cy="401.40" r="6.5" fill="#808080" fill-opacity="0.45"/>
<circle cx="1480.50" cy="406.80" r="6.5" fill="#808080" fill-opacity="0.45"/>
<circle cx="1345.40" cy="420.60" r="6.5" fill="#808080" fill-opacity="0.45"/>
<circle cx="1595.50" cy="324.00" r="6.5" fill="#808080" fill-opacity="0.45"/>
<circle cx="1610.90" cy="324.00" r="6.5" fill="#808080" fill-opacity="0.45"/>
<circle cx="1625.30" cy="319.90" r="6.5" fill="#808080" fill-opacity="0.45"/>
<circle cx="1625.30" cy="319.90" r="6.5" fill="#808080" fill-opacity="0.45"/>
<circle cx="1590.00" cy="357.10" r="6.5" fill="#808080" fill-opacity="0.45"/>
<circle cx="1610.40" cy="354.70" r="6.5" fill="#808080" fill-opacity="0.45"/>
<circle cx="1620.00" cy="348.70" r="6.5" fill="#808080" fill-opacity="0.45"/>
<circle cx="1651.60" cy="317.40" r="6.5" fill="#808080" fill-opacity="0.45"/>
<circle cx="1655.00" cy="320.20" r="6.5" fill="#808080" fill-opacity="0.45"/>
<circle cx="1708.40" cy="317.70" r="6.5" fill="#808080" fill-opacity="0.45"/>
<polygon points="1647.30,308.80 1651.60,313.10 1655.90,308.80 1660.20,313.10 1655.90,317.40 1660.20,321.70 1655.90,326.00 1651.60,321.70 1647.30,326.00 1643.00,321.70 1647.30,317.40 1643.00,313.10" fill="#f00" fill-opacity="0.5"/>
<polygon points="1650.70,311.60 1655.00,315.90 1659.30,311.60 1663.60,315.90 1659.30,320.20 1663.60,324.50 1659.30,328.80 1655.00,324.50 1650.70,328.80 1646.40,324.50 1650.70,320.20 1646.40,315.90" fill="#f00" fill-opacity="0.5"/>
<polygon points="1650.70,311.60 1655.00,315.90 1659.30,311.60 1663.60,315.90 1659.30,320.20 1663.60,324.50 1659.30,328.80 1655.00,324.50 1650.70,328.80 1646.40,324.50 1650.70,320.20 1646.40,315.90" fill="#f00" fill-opacity="0.5"/>
<polygon points="1704.10,309.10 1708.40,313.40 1712.70,309.10 1717.00,313.40 1712.70,317.70 1717.00,322.00 1712.70,326.30 1708.40,322.00 1704.10,326.30 1699.80,322.00 1704.10,317.70 1699.80,313.40" fill="#f00" fill-opacity="0.5"/>
<polygon points="1499.55,26.06 1293.21,497.62 1705.89,497.62" fill="#addbe3" fill-opacity="0.5"/>
<line x1="1499.00" y1="459.90" x2="1499.00" y2="26.20" stroke="#777" stroke-width="2.2" stroke-dasharray="7.8 2.95" stroke-dashoffset="0.5"/>
</g>
<line x1="114.60" y1="25.60" x2="114.60" y2="460.50" stroke="#222" stroke-width="1.25"/><line x1="559.70" y1="25.60" x2="559.70" y2="460.50" stroke="#222" stroke-width="1.25"/><line x1="114.00" y1="26.20" x2="560.30" y2="26.20" stroke="#222" stroke-width="1.25"/><line x1="114.00" y1="460.00" x2="560.30" y2="460.00" stroke="#222" stroke-width="1.15"/>
<line x1="114.60" y1="54.96" x2="122.60" y2="54.96" stroke="#000" stroke-width="1.3"/><text transform="translate(103.30,64.76) scale(1,1.065)" text-anchor="end" class="tk">0.6</text>
<line x1="114.60" y1="146.84" x2="122.60" y2="146.84" stroke="#000" stroke-width="1.3"/><text transform="translate(103.30,156.64) scale(1,1.065)" text-anchor="end" class="tk">0.4</text>
<line x1="114.60" y1="238.72" x2="122.60" y2="238.72" stroke="#000" stroke-width="1.3"/><text transform="translate(103.30,248.52) scale(1,1.065)" text-anchor="end" class="tk">0.2</text>
<text transform="translate(103.30,340.40) scale(1,1.065)" text-anchor="end" class="tk">0</text>
<line x1="114.60" y1="422.48" x2="122.60" y2="422.48" stroke="#000" stroke-width="1.3"/><text transform="translate(103.30,432.28) scale(1,1.065)" text-anchor="end" class="tk">–0.2</text>
<line x1="133.80" y1="459.90" x2="133.80" y2="451.90" stroke="#000" stroke-width="1.3"/><text transform="translate(133.80,493.00) scale(1,1.065)" text-anchor="middle" class="tk">0</text>
<line x1="222.23" y1="459.90" x2="222.23" y2="451.90" stroke="#000" stroke-width="1.3"/><text transform="translate(222.23,493.00) scale(1,1.065)" text-anchor="middle" class="tk">25</text>
<line x1="310.65" y1="459.90" x2="310.65" y2="451.90" stroke="#000" stroke-width="1.3"/><text transform="translate(310.65,493.00) scale(1,1.065)" text-anchor="middle" class="tk">50</text>
<line x1="399.07" y1="459.90" x2="399.07" y2="451.90" stroke="#000" stroke-width="1.3"/><text transform="translate(399.07,493.00) scale(1,1.065)" text-anchor="middle" class="tk">75</text>
<line x1="487.50" y1="459.90" x2="487.50" y2="451.90" stroke="#000" stroke-width="1.3"/><text transform="translate(487.50,493.00) scale(1,1.065)" text-anchor="middle" class="tk">100</text>
<line x1="698.90" y1="25.60" x2="698.90" y2="460.50" stroke="#222" stroke-width="1.25"/><line x1="1143.90" y1="25.60" x2="1143.90" y2="460.50" stroke="#222" stroke-width="1.25"/><line x1="698.30" y1="26.20" x2="1144.50" y2="26.20" stroke="#222" stroke-width="1.25"/><line x1="698.30" y1="460.00" x2="1144.50" y2="460.00" stroke="#222" stroke-width="1.15"/>
<line x1="698.90" y1="64.34" x2="706.90" y2="64.34" stroke="#000" stroke-width="1.3"/><text transform="translate(687.60,74.14) scale(1,1.065)" text-anchor="end" class="tk">1.8</text>
<line x1="698.90" y1="138.38" x2="706.90" y2="138.38" stroke="#000" stroke-width="1.3"/><text transform="translate(687.60,148.18) scale(1,1.065)" text-anchor="end" class="tk">1.6</text>
<line x1="698.90" y1="212.42" x2="706.90" y2="212.42" stroke="#000" stroke-width="1.3"/><text transform="translate(687.60,222.22) scale(1,1.065)" text-anchor="end" class="tk">1.4</text>
<line x1="698.90" y1="286.46" x2="706.90" y2="286.46" stroke="#000" stroke-width="1.3"/><text transform="translate(687.60,296.26) scale(1,1.065)" text-anchor="end" class="tk">1.2</text>
<text transform="translate(687.60,370.30) scale(1,1.065)" text-anchor="end" class="tk">1.0</text>
<line x1="698.90" y1="434.54" x2="706.90" y2="434.54" stroke="#000" stroke-width="1.3"/><text transform="translate(687.60,444.34) scale(1,1.065)" text-anchor="end" class="tk">0.8</text>
<line x1="718.10" y1="459.90" x2="718.10" y2="451.90" stroke="#000" stroke-width="1.3"/><text transform="translate(718.10,493.00) scale(1,1.065)" text-anchor="middle" class="tk">0</text>
<line x1="806.55" y1="459.90" x2="806.55" y2="451.90" stroke="#000" stroke-width="1.3"/><text transform="translate(806.55,493.00) scale(1,1.065)" text-anchor="middle" class="tk">25</text>
<line x1="895.00" y1="459.90" x2="895.00" y2="451.90" stroke="#000" stroke-width="1.3"/><text transform="translate(895.00,493.00) scale(1,1.065)" text-anchor="middle" class="tk">50</text>
<line x1="983.45" y1="459.90" x2="983.45" y2="451.90" stroke="#000" stroke-width="1.3"/><text transform="translate(983.45,493.00) scale(1,1.065)" text-anchor="middle" class="tk">75</text>
<line x1="1071.90" y1="459.90" x2="1071.90" y2="451.90" stroke="#000" stroke-width="1.3"/><text transform="translate(1071.90,493.00) scale(1,1.065)" text-anchor="middle" class="tk">100</text>
<line x1="1289.50" y1="25.60" x2="1289.50" y2="460.50" stroke="#222" stroke-width="1.25"/><line x1="1734.50" y1="25.60" x2="1734.50" y2="460.50" stroke="#222" stroke-width="1.25"/><line x1="1288.90" y1="26.20" x2="1735.10" y2="26.20" stroke="#222" stroke-width="1.25"/><line x1="1288.90" y1="460.00" x2="1735.10" y2="460.00" stroke="#222" stroke-width="1.15"/>
<text transform="translate(1278.20,35.86) scale(1,1.065)" text-anchor="end" class="tk">0</text>
<line x1="1289.50" y1="116.75" x2="1297.50" y2="116.75" stroke="#000" stroke-width="1.3"/><text transform="translate(1278.20,126.55) scale(1,1.065)" text-anchor="end" class="tk">0.05</text>
<line x1="1289.50" y1="207.43" x2="1297.50" y2="207.43" stroke="#000" stroke-width="1.3"/><text transform="translate(1278.20,217.23) scale(1,1.065)" text-anchor="end" class="tk">0.10</text>
<line x1="1289.50" y1="298.12" x2="1297.50" y2="298.12" stroke="#000" stroke-width="1.3"/><text transform="translate(1278.20,307.92) scale(1,1.065)" text-anchor="end" class="tk">0.15</text>
<line x1="1289.50" y1="388.80" x2="1297.50" y2="388.80" stroke="#000" stroke-width="1.3"/><text transform="translate(1278.20,398.60) scale(1,1.065)" text-anchor="end" class="tk">0.20</text>
<line x1="1337.59" y1="459.90" x2="1337.59" y2="451.90" stroke="#000" stroke-width="1.3"/><text transform="translate(1337.59,493.00) scale(1,1.065)" text-anchor="middle" class="tk">–0.4</text>
<line x1="1418.57" y1="459.90" x2="1418.57" y2="451.90" stroke="#000" stroke-width="1.3"/><text transform="translate(1418.57,493.00) scale(1,1.065)" text-anchor="middle" class="tk">–0.2</text>
<line x1="1499.55" y1="459.90" x2="1499.55" y2="451.90" stroke="#000" stroke-width="1.3"/><text transform="translate(1499.55,493.00) scale(1,1.065)" text-anchor="middle" class="tk">0</text>
<line x1="1580.53" y1="459.90" x2="1580.53" y2="451.90" stroke="#000" stroke-width="1.3"/><text transform="translate(1580.53,493.00) scale(1,1.065)" text-anchor="middle" class="tk">0.2</text>
<line x1="1661.51" y1="459.90" x2="1661.51" y2="451.90" stroke="#000" stroke-width="1.3"/><text transform="translate(1661.51,493.00) scale(1,1.065)" text-anchor="middle" class="tk">0.4</text>
<text transform="translate(337.40,536.00) scale(1,1.045)" text-anchor="middle" class="lab">Diet in red meat (g d<tspan dy="-12.3" font-size="18.5">–1</tspan><tspan dy="12.3">)</tspan></text>
<text transform="translate(921.70,536.00) scale(1,1.045)" text-anchor="middle" class="lab">Diet in red meat (g d<tspan dy="-12.3" font-size="18.5">–1</tspan><tspan dy="12.3">)</tspan></text>
<text transform="translate(1512.30,535.80) scale(1,1.045)" text-anchor="middle" class="lab">Residual</text>
<text transform="translate(21.90,242.80) rotate(-90) scale(1,1.045)" text-anchor="middle" class="lab">log RR</text>
<text transform="translate(619.90,242.50) rotate(-90) scale(1,1.045)" text-anchor="middle" class="lab">RR</text>
<text transform="translate(1203.20,240.90) rotate(-90) scale(1,1.045)" text-anchor="middle" class="lab">Residual s.d.</text>
<text x="-2.2" y="24" class="pl" style="font-family:'DejaVu Sans',sans-serif;font-size:29.2px">a</text>
<text x="596" y="24" class="pl">b</text>
<text x="1178" y="24" class="pl">c</text>
<rect x="1751.1" y="46.6" width="52.8" height="12.1" fill="#008080" fill-opacity="0.2"/>
<rect x="1751.1" y="76.2" width="52.8" height="12.4" fill="#008080" fill-opacity="0.4"/>
<line x1="1756.1" y1="111.8" x2="1798.8" y2="111.8" stroke="#008080" stroke-width="2"/>
<line x1="1756" y1="141.4" x2="1798.6" y2="141.4" stroke="#f00" stroke-width="1.8"/>
<circle cx="1777.2" cy="171.5" r="8.2" fill="#808080" fill-opacity="0.5"/>
<path d="M1769.10 193.20L1785.30 209.40M1769.10 209.40L1785.30 193.20" stroke="#f00" stroke-opacity="0.5" stroke-width="4.2" fill="none"/>
<line x1="1757.0" y1="231.2" x2="1797.6" y2="231.2" stroke="#888" stroke-width="2" stroke-dasharray="8 2.7"/>
<text transform="translate(1813.30,60.20) scale(1,1.027)" class="lg">95% UI with heterogeneity</text>
<text transform="translate(1813.30,89.70) scale(1,1.027)" class="lg">95% UI without heterogeneity</text>
<text transform="translate(1813.30,119.20) scale(1,1.027)" class="lg">Mean dose response</text>
<text transform="translate(1813.30,148.70) scale(1,1.027)" class="lg">Burden of proof function</text>
<text transform="translate(1813.30,178.20) scale(1,1.027)" class="lg">Data points</text>
<text transform="translate(1813.30,207.70) scale(1,1.027)" class="lg">Trimmed data points</text>
<text transform="translate(1813.30,237.20) scale(1,1.027)" class="lg">Score boundary</text>
</svg></body></html>
